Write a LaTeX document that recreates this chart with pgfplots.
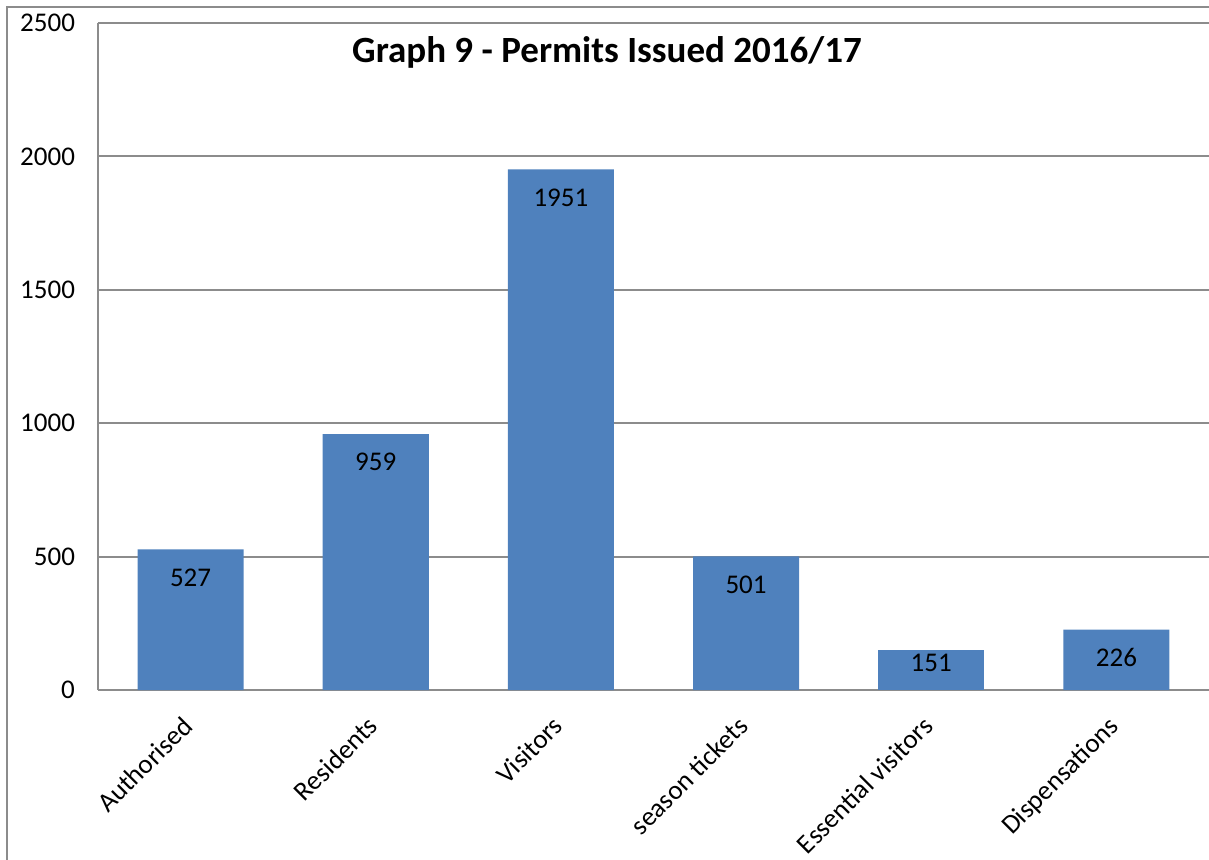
\documentclass[border=0pt]{standalone}
\usepackage{pgfplots}
\pgfplotsset{compat=1.18}
\usepackage{fontspec}
\setmainfont{Carlito}
\definecolor{barblue}{HTML}{4F81BD}
\definecolor{gridgray}{HTML}{8C8C8C}

\begin{document}
\begin{tikzpicture}
\begin{axis}[
  scale only axis, width=555.5pt, height=333.5pt,
  xmin=-0.5, xmax=5.5, ymin=0, ymax=2500,
  ybar, bar width=53pt, bar shift=0pt,
  xtick={0,...,5},
  xticklabels={Authorised,Residents,Visitors,season tickets,Essential visitors,Dispensations},
  ytick={0,500,...,2500},
  axis x line*=bottom, axis y line*=left,
  axis line style={gridgray, line width=1pt, -},
  ymajorgrids, grid style={gridgray, line width=1pt},
  major tick length=0pt,
  tick label style={font=\fontsize{13.5}{16}\selectfont},
  /pgf/number format/assume math mode=true,
  /pgf/number format/1000 sep={},
  yticklabel style={xshift=-8pt},
  xticklabel style={rotate=45, anchor=north east, xshift=-8.7pt, yshift=-1.8pt},
  nodes near coords,
  every node near coord/.append style={anchor=center, font=\fontsize{13.5}{16}\selectfont},
]
% bars tall enough for the label 14pt below the top
\addplot[fill=barblue, draw=none, every node near coord/.append style={yshift=-14pt}]
  coordinates {(0,527) (1,959) (2,1951) (3,501) (5,226)};
% short bar: label sits closer to the top
\addplot[fill=barblue, draw=none, every node near coord/.append style={yshift=-6.5pt}]
  coordinates {(4,151)};
\end{axis}
\node[font=\bfseries\fontsize{18.5}{22}\selectfont] at (254.5pt,319pt) {Graph 9 - Permits Issued 2016/17};
\draw[gridgray, line width=1pt] (-45.5pt,-90pt) -- (-45.5pt,341.5pt) -- (560pt,341.5pt);
\pgfresetboundingbox
\path[use as bounding box] (-49pt,-84.5pt) rectangle (555.5pt,345pt);
\end{tikzpicture}
\end{document}
